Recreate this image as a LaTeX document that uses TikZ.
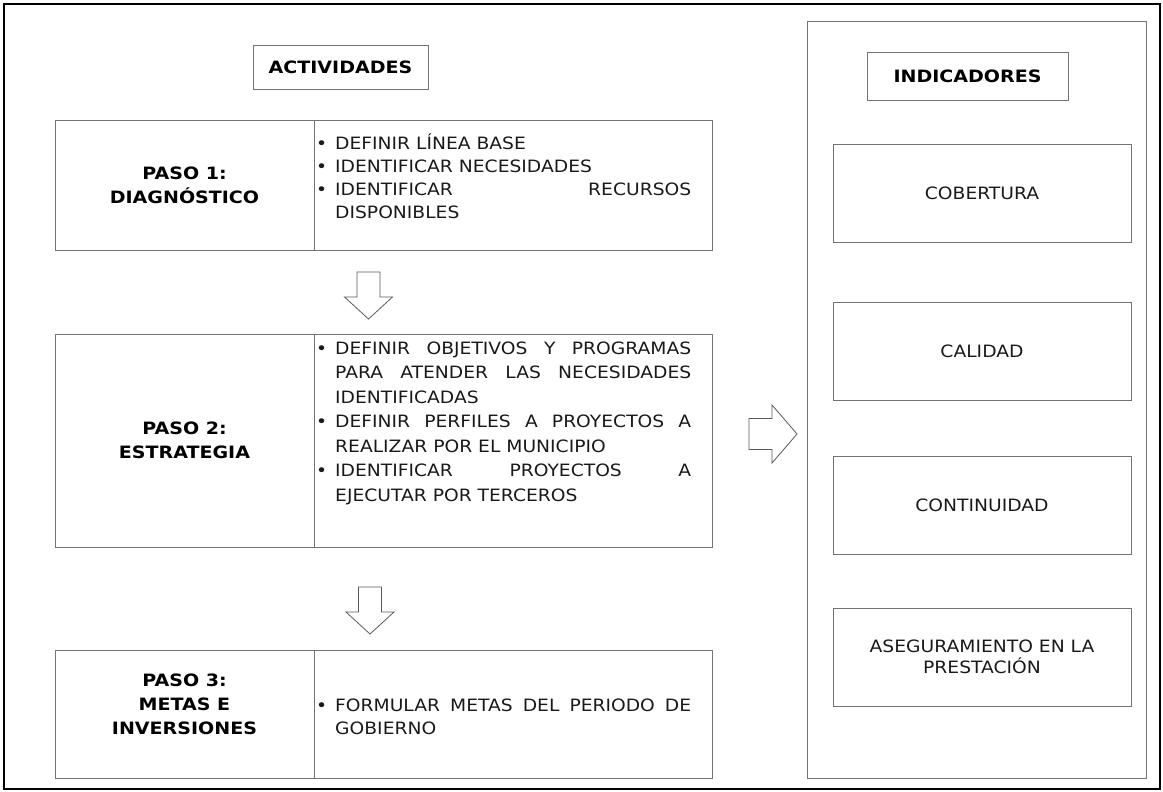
\documentclass[tikz,border=0pt]{standalone}
\usepackage{fontspec}
\setmainfont{DejaVu Sans}[FakeStretch=1.1, BoldFeatures={FakeStretch=1.12}]
\usetikzlibrary{positioning}

\newcommand{\bitem}[1]{\noindent\hangindent=19pt\hangafter=1\hbox to 19pt{\strut\textbullet\hfil}#1\par}

\begin{document}
\begin{tikzpicture}
	[x=1pt, y=-1pt,
	every node/.style={inner sep=0pt, text=black!90, font=\fontsize{17}{21.5}\selectfont},
	cell/.style={draw=black!55, line width=0.8pt, align=center},
	title/.style={cell, text=black, font=\fontsize{17}{24}\selectfont\bfseries},
	bullets/.style={text width=375pt, align=justify,
		execute at begin node={\hyphenpenalty=10000\exhyphenpenalty=10000\tolerance=10000}},
	arrowline/.style={draw=black!65, line width=0.8pt, line join=miter},
	downarrow/.pic={\path[arrowline] (-11.5,0) -- (-11.5,25) -- (-24,25) -- (0,47) -- (24,25) -- (11.5,25) -- (11.5,0) -- cycle;},
	rightarrow/.pic={\path[arrowline] (0,-15.5) -- (23,-15.5) -- (23,-29) -- (48,0) -- (23,29) -- (23,15.5) -- (0,15.5) -- cycle;}]
	\useasboundingbox (0,0) rectangle (1163,792);
	\draw [line width=1.4pt] (4,4) rectangle (1160,789);
	% actividades
	\node (act) [title, minimum width=175pt, minimum height=44pt] at (340.5,67) {ACTIVIDADES};
	\node (p1) [title, minimum width=259pt, minimum height=130pt] at (184.5,185) {PASO 1:\\DIAGNÓSTICO};
	\node (p1act) [cell, minimum width=398pt, minimum height=130pt, anchor=west] at (313.5,185) {};
	\node (p1txt) [bullets, font=\fontsize{17}{23}\selectfont, anchor=north west] at (316,133) {%
		\bitem{DEFINIR LÍNEA BASE}
		\bitem{IDENTIFICAR NECESIDADES}
		\bitem{IDENTIFICAR RECURSOS\linebreak DISPONIBLES}};
	\node (p2) [title, minimum width=259pt, minimum height=213pt] at (184.5,440.5) {PASO 2:\\ESTRATEGIA};
	\node (p2act) [cell, minimum width=398pt, minimum height=213pt, anchor=west] at (313.5,440.5) {};
	\node (p2txt) [bullets, font=\fontsize{17}{24.5}\selectfont, anchor=north west] at (316,337) {%
		\bitem{DEFINIR OBJETIVOS Y PROGRAMAS\linebreak PARA ATENDER LAS NECESIDADES\linebreak IDENTIFICADAS}
		\bitem{DEFINIR PERFILES A PROYECTOS A\linebreak REALIZAR POR EL MUNICIPIO}
		\bitem{IDENTIFICAR PROYECTOS A\linebreak EJECUTAR POR TERCEROS}};
	\node (p3) [cell, minimum width=259pt, minimum height=128pt] at (184.5,714) {};
	\node (p3lbl) [title, draw=none] at (184.5,704) {PASO 3:\\METAS E\\INVERSIONES};
	\node (p3act) [cell, minimum width=398pt, minimum height=128pt, anchor=west] at (313.5,714) {};
	\node (p3txt) [bullets, font=\fontsize{17}{23}\selectfont, anchor=west] at (316,715) {%
		\bitem{FORMULAR METAS DEL PERIODO DE\linebreak GOBIERNO}};
	\pic at (368.5,272) {downarrow};
	\pic at (370,587) {downarrow};
	% indicadores
	\node (panel) [cell, minimum width=339pt, minimum height=757pt] at (976.5,399.5) {};
	\node (ind) [title, minimum width=201pt, minimum height=48pt] at (967.5,76) {INDICADORES};
	\node (cob) [cell, minimum width=298pt, minimum height=98pt] at (982,193) {COBERTURA};
	\node (cal) [cell, minimum width=298pt, minimum height=98pt] at (982,351) {CALIDAD};
	\node (con) [cell, minimum width=298pt, minimum height=98pt] at (982,505.5) {CONTINUIDAD};
	\node (ase) [cell, minimum width=298pt, minimum height=98pt] at (982,657) {ASEGURAMIENTO EN LA\\PRESTACIÓN};
	\pic at (749,434) {rightarrow};
\end{tikzpicture}
\end{document}
